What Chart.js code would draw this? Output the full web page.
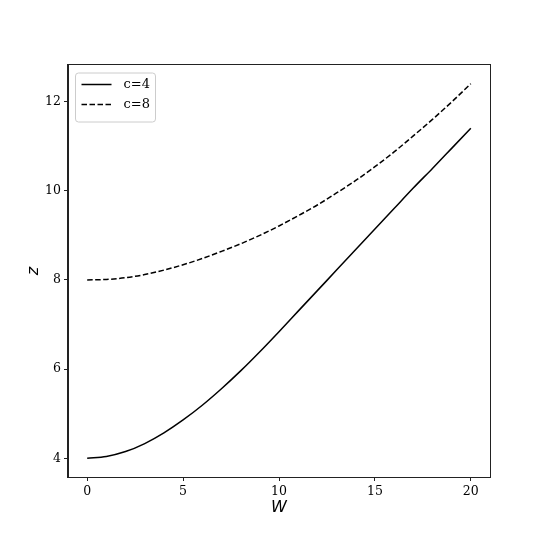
<!DOCTYPE html>
<html>
<head>
<meta charset="utf-8">
<script src="https://cdn.jsdelivr.net/npm/chart.js@4"></script>
<style>
  body { margin: 0; background: #fff; }
  canvas { display: block; }
</style>
</head>
<body>
<canvas id="myChart" width="545" height="545"></canvas>
<script>
// data
const wValues = [0, 1, 2, 3, 4, 5, 6, 7, 8, 9, 10, 11, 12, 13, 14, 15, 16, 17, 18, 19, 20];
const zC4 = [4.00, 4.04, 4.15, 4.33, 4.57, 4.86, 5.19, 5.56, 5.96, 6.39, 6.84,
             7.30, 7.76, 8.22, 8.68, 9.14, 9.60, 10.06, 10.50, 10.95, 11.40];
const zC8 = [8.00, 8.01, 8.05, 8.12, 8.22, 8.34, 8.48, 8.64, 8.81, 9.00, 9.21,
             9.44, 9.68, 9.95, 10.23, 10.54, 10.87, 11.23, 11.60, 11.99, 12.40];
const seriesLabels = ["c=4", "c=8"];
const xTicks = [0, 5, 10, 15, 20];
const yTicks = [4, 6, 8, 10, 12];

const tickFont = { family: "DejaVu Serif", size: 12.5 };

// frame around the plot area + legend box in the top-left corner
const framePlugin = {
    id: "frame",
    afterDraw(chart) {
        const { ctx, chartArea: a } = chart;
        ctx.save();
        ctx.strokeStyle = "#222";
        ctx.lineWidth = 1;
        ctx.strokeRect(Math.round(a.left) - 0.5, Math.round(a.top) - 0.5,
                       Math.round(a.right - a.left) + 1, Math.round(a.bottom - a.top) + 1);

        // legend
        const bx = a.left + 7.5, by = a.top + 8, bw = 80, bh = 49, r = 3;
        ctx.beginPath();
        ctx.roundRect(bx, by, bw, bh, r);
        ctx.fillStyle = "rgba(255,255,255,0.8)";
        ctx.fill();
        ctx.strokeStyle = "#cccccc";
        ctx.stroke();

        chart.data.datasets.forEach((ds, i) => {
            const y = by + 11.5 + i * 20;
            ctx.beginPath();
            ctx.setLineDash(ds.borderDash || []);
            ctx.strokeStyle = ds.borderColor;
            ctx.lineWidth = ds.borderWidth;
            ctx.moveTo(bx + 6, y);
            ctx.lineTo(bx + 36, y);
            ctx.stroke();
            ctx.setLineDash([]);
            ctx.fillStyle = "#000";
            ctx.font = "13px 'DejaVu Serif'";
            ctx.textBaseline = "middle";
            ctx.fillText(ds.label, bx + 48, y);
        });
        ctx.restore();
    },
};

const ctx = document.getElementById("myChart").getContext("2d");

const myChart = new Chart(ctx, {
    type: "line",
    data: {
        datasets: [
            {
                label: seriesLabels[0],
                data: wValues.map((w, i) => ({ x: w, y: zC4[i] })),
                borderColor: "#000",
                borderWidth: 1.5,
                pointRadius: 0,
                cubicInterpolationMode: "monotone",
                fill: false,
            },
            {
                label: seriesLabels[1],
                data: wValues.map((w, i) => ({ x: w, y: zC8[i] })),
                borderColor: "#000",
                borderWidth: 1.5,
                borderDash: [5.5, 2.5],
                pointRadius: 0,
                cubicInterpolationMode: "monotone",
                fill: false,
            },
        ],
    },
    options: {
        responsive: false,
        animation: false,
        layout: { padding: { left: 24, top: 65, right: 55, bottom: 28 } },
        plugins: {
            legend: { display: false },
            tooltip: { enabled: false },
        },
        scales: {
            x: {
                type: "linear",
                min: -1,
                max: 21,
                afterBuildTicks: (s) => { s.ticks = xTicks.map((v) => ({ value: v })); },
                afterFit: (s) => { s.height = 40; },
                ticks: { font: tickFont, color: "#000", padding: 3, maxRotation: 0 },
                grid: { drawOnChartArea: false, drawTicks: true, tickLength: 4, color: "#222" },
                border: { display: true, color: "#222" },
                title: {
                    display: true,
                    text: "W",
                    color: "#000",
                    padding: 0,
                    font: { family: "DejaVu Sans", style: "italic", size: 16 },
                },
            },
            y: {
                type: "linear",
                min: 3.58,
                max: 12.82,
                afterBuildTicks: (s) => { s.ticks = yTicks.map((v) => ({ value: v })); },
                afterFit: (s) => { s.width = 44; },
                ticks: { font: tickFont, color: "#000", padding: 3 },
                grid: { drawOnChartArea: false, drawTicks: true, tickLength: 4, color: "#222" },
                border: { display: true, color: "#222" },
                title: {
                    display: true,
                    text: "z",
                    color: "#000",
                    padding: 0,
                    font: { family: "DejaVu Sans", style: "italic", size: 16 },
                },
            },
        },
    },
    plugins: [framePlugin],
});
</script>
</body>
</html>
